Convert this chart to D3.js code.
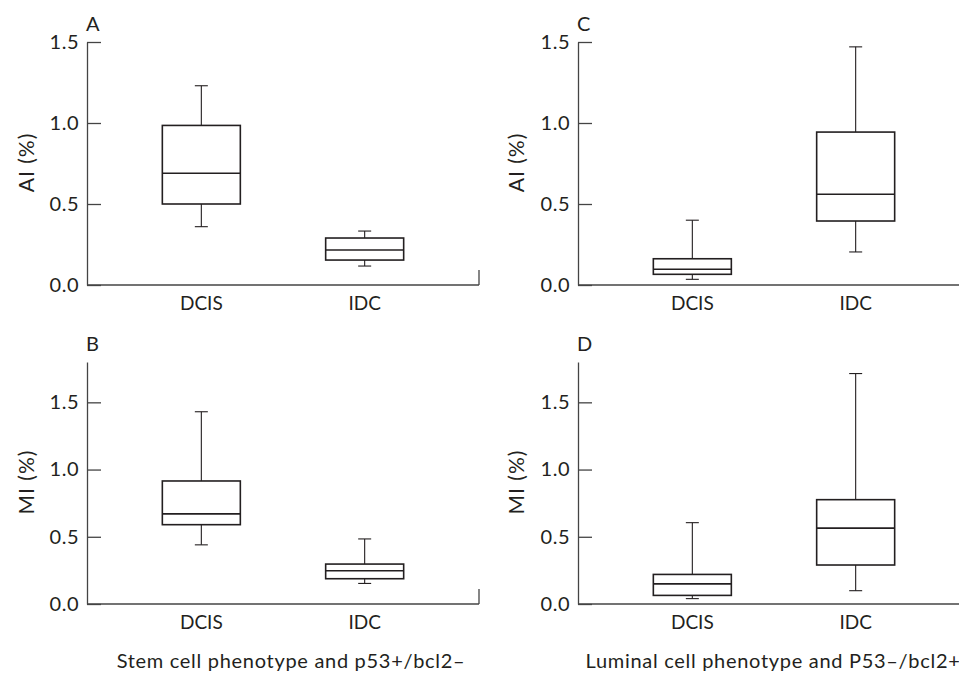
<!DOCTYPE html>
<html>
<head>
<meta charset="utf-8">
<script src="https://cdn.jsdelivr.net/npm/d3@7"></script>
<style>
  body { margin: 0; background: #fff; }
  svg text { font-family: Lato, "Open Sans", sans-serif; fill: #231f20; }
</style>
</head>
<body>
<div id="main"></div>
<script>
// box stats per group: [whisker low, q1, median, q3, whisker high]
const categories = ["DCIS", "IDC"];
const aiStem = [[0.36, 0.50, 0.69, 0.985, 1.23], [0.117, 0.154, 0.216, 0.29, 0.333]];
const miStem = [[0.44, 0.59, 0.67, 0.915, 1.43], [0.153, 0.188, 0.247, 0.297, 0.484]];
const aiLuminal = [[0.035, 0.066, 0.097, 0.162, 0.40], [0.204, 0.395, 0.56, 0.944, 1.47]];
const miLuminal = [[0.04, 0.064, 0.15, 0.22, 0.605], [0.099, 0.29, 0.564, 0.776, 1.714]];
const yTicks = [0, 0.5, 1.0, 1.5];
const panelLetters = ["A", "B", "C", "D"];
const yLabels = ["AI (%)", "MI (%)", "AI (%)", "MI (%)"];
const subtitles = ["Stem cell phenotype and p53+/bcl2\u2013", "Luminal cell phenotype and P53\u2013/bcl2+"];

let width = 959, height = 675;
let svg = d3.select('#main').append('svg')
  .attr('width', width)
  .attr('height', height);

let plotW = 392;
let boxW = 78;
let capW = 13;

// panel layout: left edge of y axis, top and bottom of y range, y max
let panels = [
  { data: aiStem, left: 87, top: 42, bottom: 285, ymax: 1.5, endTick: true },
  { data: miStem, left: 87, top: 362, bottom: 604, ymax: 1.8, endTick: true },
  { data: aiLuminal, left: 578, top: 42, bottom: 285, ymax: 1.5, endTick: false },
  { data: miLuminal, left: 578, top: 362, bottom: 604, ymax: 1.8, endTick: false }
];

panels.forEach(function(p, i) {
  let g = svg.append('g').attr('class', 'panel');

  let x = d3.scalePoint()
    .domain(categories)
    .range([p.left, p.left + plotW])
    .padding(0.7);

  let y = d3.scaleLinear()
    .domain([0, p.ymax])
    .range([p.bottom, p.top]);

  // y axis, ticks pointing inward
  let yAxis = g.append('g')
    .attr('transform', 'translate(' + p.left + ',0)')
    .call(d3.axisLeft(y).tickValues(yTicks).tickSizeInner(-14).tickSizeOuter(0)
      .tickPadding(8).tickFormat(d3.format('.1f')));
  yAxis.select('.domain').attr('stroke', '#444').attr('stroke-width', 1.3);
  yAxis.selectAll('.tick line').attr('stroke', '#444').attr('stroke-width', 1.3);
  yAxis.selectAll('.tick text')
    .style('font-size', '20px')
    .style('letter-spacing', '0.5px')
    .attr('fill', '#231f20');

  // x axis baseline
  g.append('line')
    .attr('x1', p.left).attr('x2', p.left + plotW)
    .attr('y1', p.bottom).attr('y2', p.bottom)
    .attr('stroke', '#444').attr('stroke-width', 1.3);
  if (p.endTick) {
    g.append('line')
      .attr('x1', p.left + plotW).attr('x2', p.left + plotW)
      .attr('y1', p.bottom - 15).attr('y2', p.bottom)
      .attr('stroke', '#444').attr('stroke-width', 1.3);
  }

  // category labels
  g.selectAll('.cat')
    .data(categories)
    .enter().append('text')
    .attr('class', 'cat')
    .attr('x', function(d) { return x(d); })
    .attr('y', p.bottom + 25)
    .attr('text-anchor', 'middle')
    .style('font-size', '19px')
    .text(function(d) { return d; });

  // panel letter
  g.append('text')
    .attr('x', p.left - 1)
    .attr('y', p.top - 11)
    .style('font-size', '20px')
    .text(panelLetters[i]);

  // y label
  g.append('text')
    .attr('transform', 'translate(' + (p.left - 53 + (p.left > 100 ? -1 : 0)) + ',' + ((p.top + p.bottom) / 2 - 1) + ') rotate(-90)')
    .attr('text-anchor', 'middle')
    .style('font-size', '21px')
    .style('letter-spacing', '1px')
    .text(yLabels[i]);

  // boxes
  let boxes = g.selectAll('.box')
    .data(p.data)
    .enter().append('g')
    .attr('class', 'box')
    .attr('transform', function(d, j) { return 'translate(' + x(categories[j]) + ',0)'; });

  // whiskers
  boxes.append('line')
    .attr('x1', 0).attr('x2', 0)
    .attr('y1', function(d) { return y(d[0]); })
    .attr('y2', function(d) { return y(d[1]); })
    .attr('stroke', '#231f20').attr('stroke-width', 1.1);
  boxes.append('line')
    .attr('x1', 0).attr('x2', 0)
    .attr('y1', function(d) { return y(d[3]); })
    .attr('y2', function(d) { return y(d[4]); })
    .attr('stroke', '#231f20').attr('stroke-width', 1.1);
  boxes.append('line')
    .attr('x1', -capW / 2).attr('x2', capW / 2)
    .attr('y1', function(d) { return y(d[0]); })
    .attr('y2', function(d) { return y(d[0]); })
    .attr('stroke', '#231f20').attr('stroke-width', 1.1);
  boxes.append('line')
    .attr('x1', -capW / 2).attr('x2', capW / 2)
    .attr('y1', function(d) { return y(d[4]); })
    .attr('y2', function(d) { return y(d[4]); })
    .attr('stroke', '#231f20').attr('stroke-width', 1.1);

  boxes.append('rect')
    .attr('x', -boxW / 2)
    .attr('width', boxW)
    .attr('y', function(d) { return y(d[3]); })
    .attr('height', function(d) { return y(d[1]) - y(d[3]); })
    .attr('fill', 'none')
    .attr('stroke', '#231f20')
    .attr('stroke-width', 1.6);

  boxes.append('line')
    .attr('x1', -boxW / 2).attr('x2', boxW / 2)
    .attr('y1', function(d) { return y(d[2]); })
    .attr('y2', function(d) { return y(d[2]); })
    .attr('stroke', '#231f20').attr('stroke-width', 1.6);
});

// bottom captions under each column
svg.selectAll('.subtitle')
  .data(subtitles)
  .enter().append('text')
  .attr('class', 'subtitle')
  .attr('x', function(d, i) { return i === 0 ? 291 : 773; })
  .attr('y', 668)
  .attr('text-anchor', 'middle')
  .style('font-size', '20px')
  .style('letter-spacing', '0.7px')
  .text(function(d) { return d; });
</script>
</body>
</html>
